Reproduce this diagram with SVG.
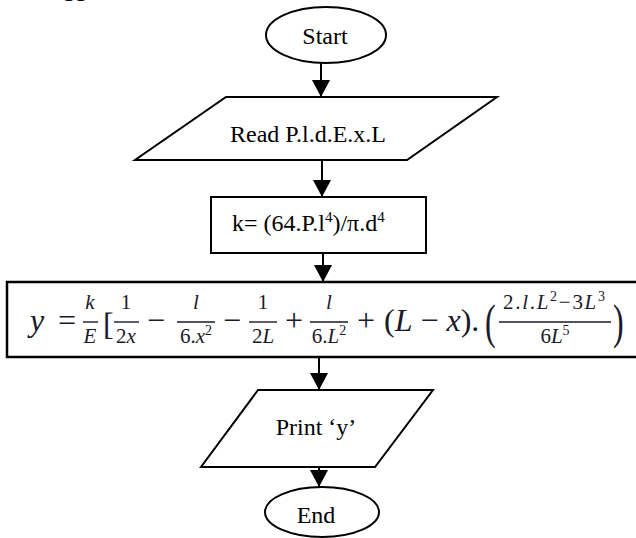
<svg xmlns="http://www.w3.org/2000/svg" width="636" height="538" viewBox="0 0 636 538">
<style>
.shape{fill:#fff;stroke:#000;stroke-width:2}
.lbl{font-family:"Liberation Serif","Times New Roman",serif;font-size:24px;fill:#000}
.conn{stroke:#000;stroke-width:2;fill:none;marker-end:url(#ah)}
.m{font-family:"Liberation Serif","Times New Roman",serif;fill:#1a1a2a}
.mi{font-style:italic}
.big{font-size:32px}
.fr{font-size:21px}
.bar{stroke:#1a1a2a;stroke-width:1.4}
</style>
<defs>
<marker id="ah" markerUnits="userSpaceOnUse" markerWidth="18" markerHeight="18" viewBox="0 0 18 18" refX="17" refY="9" orient="auto">
<path d="M0,0 L17,9 L0,18 Z" fill="#000"/>
</marker>
</defs>
<rect width="636" height="538" fill="#fff"/>
<text class="lbl" x="63" y="-4" font-weight="bold" font-size="22">gg</text>

<g id="connectors">
<line class="conn" x1="321" y1="63" x2="321" y2="97"/>
<line class="conn" x1="322" y1="160" x2="322" y2="197"/>
<line class="conn" x1="323" y1="253" x2="323" y2="282"/>
<line class="conn" x1="319" y1="357" x2="319" y2="390"/>
<line class="conn" x1="319" y1="458" x2="319" y2="487"/>
</g>

<g id="start">
<ellipse class="shape" cx="326" cy="35" rx="60" ry="28"/>
<text class="lbl" x="325" y="44" text-anchor="middle">Start</text>
</g>

<g id="read">
<polygon class="shape" points="226,97 497,97 407,160 135,160"/>
<text class="lbl" x="308" y="142" text-anchor="middle">Read P.l.d.E.x.L</text>
</g>

<g id="compute-k">
<rect class="shape" x="211" y="197" width="215" height="56"/>
<text class="lbl" x="232" y="231">k= (64.P.l<tspan font-size="15" dy="-9">4</tspan><tspan dy="9">)/π.d</tspan><tspan font-size="15" dy="-9">4</tspan></text>
</g>

<g id="compute-y">
<rect x="7" y="282" width="640" height="75" fill="#fff" stroke="#000" stroke-width="2.5"/>
<g class="m">
<text class="big mi" x="30" y="331">y</text>
<text class="big" x="58" y="331">=</text>
<text class="fr mi" x="90" y="309" text-anchor="middle">k</text>
<line class="bar" x1="83" y1="322" x2="98" y2="322"/>
<text class="fr mi" x="90" y="343" text-anchor="middle">E</text>
<text class="big" x="103" y="335">[</text>
<text class="fr" x="126" y="309" text-anchor="middle">1</text>
<line class="bar" x1="114" y1="322" x2="139" y2="322"/>
<text class="fr" x="126" y="343" text-anchor="middle">2<tspan class="mi">x</tspan></text>
<text class="big" x="147" y="331">−</text>
<text class="fr mi" x="196" y="309" text-anchor="middle">l</text>
<line class="bar" x1="177" y1="322" x2="215" y2="322"/>
<text class="fr" x="196" y="343" text-anchor="middle">6.<tspan class="mi">x</tspan><tspan font-size="14" dy="-8">2</tspan></text>
<text class="big" x="223" y="331">−</text>
<text class="fr" x="263" y="309" text-anchor="middle">1</text>
<line class="bar" x1="249" y1="322" x2="277" y2="322"/>
<text class="fr" x="263" y="343" text-anchor="middle">2<tspan class="mi">L</tspan></text>
<text class="big" x="285" y="331">+</text>
<text class="fr mi" x="329" y="309" text-anchor="middle">l</text>
<line class="bar" x1="310" y1="322" x2="348" y2="322"/>
<text class="fr" x="329" y="343" text-anchor="middle">6.<tspan class="mi">L</tspan><tspan font-size="14" dy="-8">2</tspan></text>
<text class="big" x="357" y="331">+</text>
<text class="big" x="384" y="331">(<tspan class="mi">L</tspan> − <tspan class="mi">x</tspan>).</text>
<text x="485" y="338" font-size="32" transform="translate(485 338) scale(1 1.5) translate(-485 -338)">(</text>
<text class="fr" x="503" y="309" textLength="102" lengthAdjust="spacing">2.<tspan class="mi">l</tspan>.<tspan class="mi">L</tspan><tspan font-size="14" dy="-8">2</tspan><tspan dy="8">−3</tspan><tspan class="mi">L</tspan><tspan font-size="14" dy="-8">3</tspan></text>
<line class="bar" x1="499" y1="322" x2="611" y2="322"/>
<text class="fr" x="555" y="343" text-anchor="middle">6<tspan class="mi">L</tspan><tspan font-size="14" dy="-8">5</tspan></text>
<text x="613" y="338" font-size="32" transform="translate(613 338) scale(1 1.5) translate(-613 -338)">)</text>
</g>
</g>

<g id="print">
<polygon class="shape" points="258,390 433,390 375,467 201,467"/>
<text class="lbl" x="316" y="435" text-anchor="middle">Print ‘y’</text>
</g>

<g id="end">
<ellipse class="shape" cx="322" cy="512" rx="57" ry="25"/>
<text class="lbl" x="316" y="523" text-anchor="middle">End</text>
</g>
</svg>
